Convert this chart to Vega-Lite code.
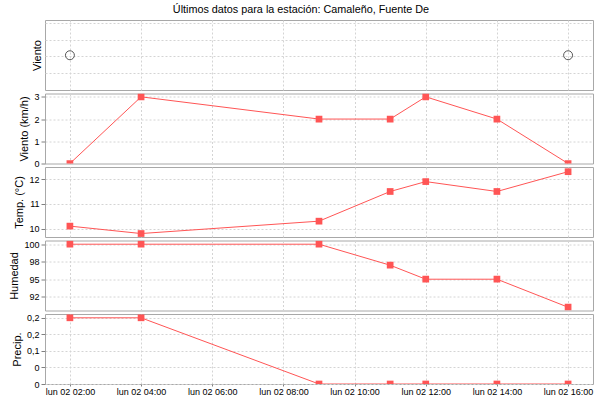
{
  "$schema": "https://vega.github.io/schema/vega-lite/v6.json",
  "background": "white",
  "padding": {"left": 8, "top": 3, "right": 5, "bottom": 3},
  "title": {"text": "Últimos datos para la estación: Camaleño, Fuente De", "font": "Liberation Sans", "fontSize": 10.8, "fontWeight": "normal", "color": "#000000", "anchor": "middle", "offset": 5},
  "datasets": {
    "obs": [
      {"t": "2023-10-02T02:00:00", "viento": 0, "temp": 10.1, "hum": 100, "precip": 0.2},
      {"t": "2023-10-02T04:00:00", "viento": 3, "temp": 9.8, "hum": 100, "precip": 0.2},
      {"t": "2023-10-02T09:00:00", "viento": 2, "temp": 10.3, "hum": 100, "precip": 0},
      {"t": "2023-10-02T11:00:00", "viento": 2, "temp": 11.5, "hum": 97, "precip": 0},
      {"t": "2023-10-02T12:00:00", "viento": 3, "temp": 11.9, "hum": 95, "precip": 0},
      {"t": "2023-10-02T14:00:00", "viento": 2, "temp": 11.5, "hum": 95, "precip": 0},
      {"t": "2023-10-02T16:00:00", "viento": 0, "temp": 12.3, "hum": 91, "precip": 0}
    ],
    "dir": [
      {"t": "2023-10-02T02:00:00", "pos": 2.07},
      {"t": "2023-10-02T16:00:00", "pos": 2.07}
    ]
  },
  "config": {
    "view": {"stroke": "#a8a8a8", "strokeWidth": 1},
    "axis": {
      "gridColor": "#d4d4d4", "gridDash": [2, 2], "gridWidth": 1,
      "domain": false, "tickColor": "#808080", "tickSize": 4, "labelPadding": 2,
      "labelFont": "Liberation Sans", "labelFontSize": 9, "labelColor": "#000000",
      "titleFont": "Liberation Sans", "titleFontSize": 11, "titleFontWeight": "normal", "titleColor": "#000000",
      "minExtent": 0, "titlePadding": 4
    }
  },
  "spacing": 3.5,
  "bounds": "flush",
  "vconcat": [
    {
      "width": 548, "height": 70,
      "data": {"name": "dir"},
      "mark": {"type": "point", "shape": "circle", "filled": false, "size": 80, "stroke": "#555555", "strokeWidth": 1, "opacity": 1, "clip": true},
      "encoding": {
        "x": {"field": "t", "type": "temporal", "scale": {"domain": ["2023-10-02T01:18:00", "2023-10-02T16:42:00"]}, "axis": {"labels": false, "ticks": false, "title": null, "grid": true, "values": ["2023-10-02T02:00:00", "2023-10-02T04:00:00", "2023-10-02T06:00:00", "2023-10-02T08:00:00", "2023-10-02T10:00:00", "2023-10-02T12:00:00", "2023-10-02T14:00:00", "2023-10-02T16:00:00"]}},
        "y": {"field": "pos", "type": "quantitative", "scale": {"domain": [0, 4.17], "nice": false, "zero": false}, "axis": {"title": "Viento", "labels": false, "ticks": false, "values": [1, 2, 3, 4], "grid": true, "titlePadding": 3}}
      }
    },
    {
      "width": 548, "height": 70,
      "data": {"name": "obs"},
      "encoding": {
        "x": {"field": "t", "type": "temporal", "scale": {"domain": ["2023-10-02T01:18:00", "2023-10-02T16:42:00"]}, "axis": {"labels": false, "ticks": false, "title": null, "grid": true, "values": ["2023-10-02T02:00:00", "2023-10-02T04:00:00", "2023-10-02T06:00:00", "2023-10-02T08:00:00", "2023-10-02T10:00:00", "2023-10-02T12:00:00", "2023-10-02T14:00:00", "2023-10-02T16:00:00"]}},
        "y": {"field": "viento", "type": "quantitative", "scale": {"domain": [0, 3.15], "nice": false}, "axis": {"title": "Viento (km/h)", "values": [0, 1, 2, 3], "grid": true}}
      },
      "layer": [
        {"mark": {"type": "line", "color": "#ff5555", "strokeWidth": 1, "clip": true}},
        {"mark": {"type": "point", "shape": "square", "filled": true, "size": 45, "color": "#ff5555", "opacity": 1, "clip": true}}
      ]
    },
    {
      "width": 548, "height": 70,
      "data": {"name": "obs"},
      "encoding": {
        "x": {"field": "t", "type": "temporal", "scale": {"domain": ["2023-10-02T01:18:00", "2023-10-02T16:42:00"]}, "axis": {"labels": false, "ticks": false, "title": null, "grid": true, "values": ["2023-10-02T02:00:00", "2023-10-02T04:00:00", "2023-10-02T06:00:00", "2023-10-02T08:00:00", "2023-10-02T10:00:00", "2023-10-02T12:00:00", "2023-10-02T14:00:00", "2023-10-02T16:00:00"]}},
        "y": {"field": "temp", "type": "quantitative", "scale": {"domain": [9.66, 12.49], "nice": false, "zero": false}, "axis": {"title": "Temp. (°C)", "values": [10, 11, 12], "grid": true}}
      },
      "layer": [
        {"mark": {"type": "line", "color": "#ff5555", "strokeWidth": 1, "clip": true}},
        {"mark": {"type": "point", "shape": "square", "filled": true, "size": 45, "color": "#ff5555", "opacity": 1, "clip": true}}
      ]
    },
    {
      "width": 548, "height": 70,
      "data": {"name": "obs"},
      "encoding": {
        "x": {"field": "t", "type": "temporal", "scale": {"domain": ["2023-10-02T01:18:00", "2023-10-02T16:42:00"]}, "axis": {"labels": false, "ticks": false, "title": null, "grid": true, "values": ["2023-10-02T02:00:00", "2023-10-02T04:00:00", "2023-10-02T06:00:00", "2023-10-02T08:00:00", "2023-10-02T10:00:00", "2023-10-02T12:00:00", "2023-10-02T14:00:00", "2023-10-02T16:00:00"]}},
        "y": {"field": "hum", "type": "quantitative", "scale": {"domain": [90.53, 100.53], "nice": false, "zero": false}, "axis": {"title": "Humedad", "values": [92.5, 95, 97.5, 100], "labelExpr": "datum.value == 97.5 ? '98' : datum.value == 92.5 ? '92' : format(datum.value, 'd')", "grid": true}}
      },
      "layer": [
        {"mark": {"type": "line", "color": "#ff5555", "strokeWidth": 1, "clip": true}},
        {"mark": {"type": "point", "shape": "square", "filled": true, "size": 45, "color": "#ff5555", "opacity": 1, "clip": true}}
      ]
    },
    {
      "width": 548, "height": 70,
      "data": {"name": "obs"},
      "encoding": {
        "x": {"field": "t", "type": "temporal", "scale": {"domain": ["2023-10-02T01:18:00", "2023-10-02T16:42:00"]}, "axis": {"title": null, "grid": true, "tickSize": 2, "labelPadding": 1, "values": ["2023-10-02T02:00:00", "2023-10-02T04:00:00", "2023-10-02T06:00:00", "2023-10-02T08:00:00", "2023-10-02T10:00:00", "2023-10-02T12:00:00", "2023-10-02T14:00:00", "2023-10-02T16:00:00"], "labelExpr": "'lun ' + timeFormat(datum.value, '%d %H:%M')"}},
        "y": {"field": "precip", "type": "quantitative", "scale": {"domain": [0, 0.2115], "nice": false}, "axis": {"title": "Precip.", "values": [0, 0.05, 0.1, 0.15, 0.2], "labelExpr": "datum.value < 0.07 ? '0' : datum.value < 0.12 ? '0,1' : '0,2'", "grid": true}}
      },
      "layer": [
        {"mark": {"type": "line", "color": "#ff5555", "strokeWidth": 1, "clip": true}},
        {"mark": {"type": "point", "shape": "square", "filled": true, "size": 45, "color": "#ff5555", "opacity": 1, "clip": true}}
      ]
    }
  ]
}
